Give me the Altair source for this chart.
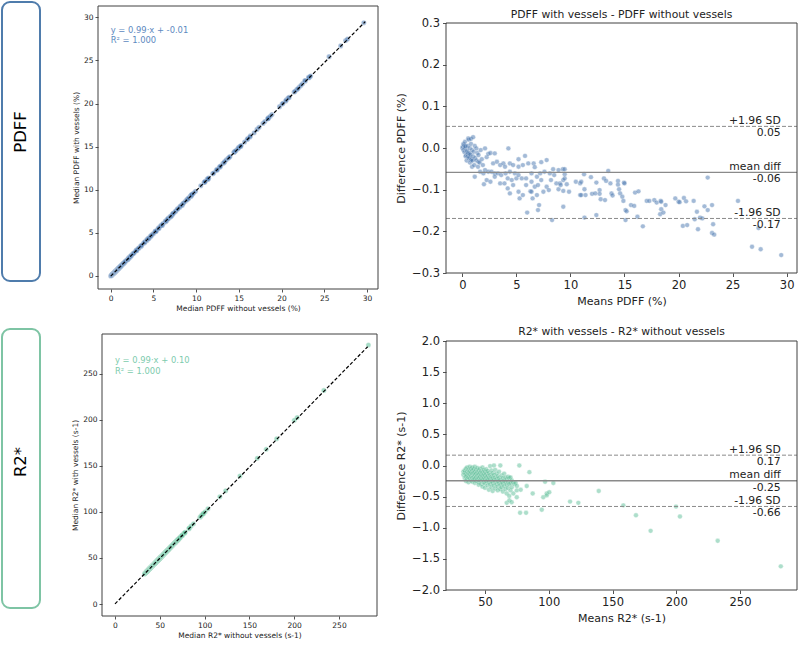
import altair as alt
import pandas as pd

FONT = "DejaVu Sans"
AX = "#404040"
TXT = "#222222"

PDFF_COLOR = "#4a78b0"
PDFF_TEXT = "#5d89c0"
PDFF_BOX = "#4f7cac"
R2_COLOR = "#5dbf98"
R2_TEXT = "#7ccbad"
R2_BOX = "#7ec4a4"

# ---------------- data ----------------
# PDFF: (mean of both measures, difference with - without)
pdff_points = [
    (0.0, 0.0), (0.05, 0.003), (0.1, 0.01), (0.1, -0.005), (0.15, 0.008), (0.2, 0.005), (0.2, -0.01),
    (0.25, 0.015), (0.25, 0.0), (0.3, -0.02), (0.3, 0.004), (0.35, -0.018), (0.4, -0.01), (0.4, -0.03),
    (0.45, -0.006), (0.5, -0.015), (0.5, 0.005), (0.5, -0.02), (0.55, 0.023), (0.55, -0.012), (0.6, 0.02),
    (0.6, -0.025), (0.65, -0.022), (0.7, 0.0), (0.7, -0.013), (0.7, -0.035), (0.75, -0.016), (0.8, 0.022),
    (0.8, 0.01), (0.8, -0.03), (0.85, -0.027), (0.9, -0.005), (0.9, -0.045), (0.95, -0.03), (1.0, 0.026),
    (1.0, -0.02), (1.05, -0.009), (1.1, -0.041), (1.15, 0.005), (1.15, -0.069), (1.2, -0.024), (1.3, -0.001),
    (1.3, -0.03), (1.4, -0.012), (1.45, -0.045), (1.5, -0.017), (1.5, -0.033), (1.6, -0.035), (1.65, -0.057),
    (1.7, -0.005), (1.8, -0.027), (1.9, -0.041), (1.95, -0.061), (2.0, -0.087), (2.1, -0.001), (2.1, -0.053),
    (2.25, -0.022), (2.25, -0.077), (2.4, -0.014), (2.4, -0.057), (2.6, -0.012), (2.6, -0.081), (2.7, -0.057),
    (2.85, -0.037), (3.0, -0.013), (3.0, -0.061), (3.0, -0.069), (3.2, -0.033), (3.3, -0.061), (3.5, -0.041),
    (3.5, -0.085), (3.6, -0.065), (3.8, -0.037), (3.9, -0.085), (3.95, -0.045), (4.0, -0.061), (4.2, -0.073),
    (4.2, -0.097), (4.26, -0.001), (4.4, -0.037), (4.4, -0.057), (4.4, -0.109), (4.57, -0.077), (4.7, -0.041),
    (4.7, -0.089), (4.86, -0.061), (5.0, -0.073), (5.2, -0.027), (5.2, -0.045), (5.2, -0.065), (5.2, -0.105),
    (5.3, -0.121), (5.5, -0.073), (5.6, -0.041), (5.6, -0.113), (5.8, -0.019), (5.9, -0.073), (5.9, -0.089),
    (6.0, -0.155), (6.1, -0.037), (6.3, -0.104), (6.4, -0.061), (6.4, -0.081), (6.4, -0.105), (6.5, -0.121),
    (6.6, -0.037), (6.7, -0.046), (6.7, -0.093), (6.9, -0.069), (6.9, -0.113), (7.0, -0.089), (7.0, -0.149),
    (7.1, -0.137), (7.2, -0.061), (7.3, -0.034), (7.3, -0.077), (7.5, -0.105), (7.6, -0.057), (7.8, -0.029),
    (7.8, -0.093), (8.0, -0.101), (8.1, -0.061), (8.2, -0.077), (8.3, -0.173), (8.4, -0.051), (8.5, -0.065),
    (8.7, -0.085), (8.9, -0.053), (8.9, -0.099), (9.04, -0.085), (9.1, -0.089), (9.3, -0.051), (9.34, -0.077),
    (9.34, -0.103), (9.34, -0.141), (9.47, -0.051), (9.47, -0.063), (9.47, -0.073), (9.66, -0.087),
    (9.87, -0.105), (10.5, -0.081), (10.9, -0.085), (10.9, -0.113), (11.0, -0.081), (11.0, -0.113),
    (11.26, -0.063), (11.3, -0.099), (11.3, -0.167), (11.4, -0.113), (11.9, -0.07), (12.0, -0.11),
    (12.3, -0.109), (12.4, -0.083), (12.4, -0.161), (12.7, -0.101), (12.7, -0.11), (12.8, -0.123),
    (13.1, -0.073), (13.2, -0.125), (13.3, -0.079), (13.5, -0.055), (13.7, -0.085), (13.8, -0.109),
    (13.9, -0.114), (14.4, -0.079), (14.4, -0.088), (14.5, -0.099), (14.6, -0.109), (14.8, -0.117),
    (14.96, -0.083), (15.0, -0.085), (14.9, -0.127), (15.1, -0.149), (15.1, -0.173), (15.2, -0.152),
    (15.6, -0.137), (15.9, -0.139), (15.98, -0.107), (16.3, -0.104), (16.2, -0.165), (16.7, -0.188),
    (17.06, -0.127), (17.3, -0.127), (17.76, -0.125), (17.98, -0.131), (18.35, -0.127), (18.4, -0.129),
    (18.4, -0.147), (18.3, -0.159), (18.6, -0.155), (18.8, -0.137), (19.7, -0.121), (20.0, -0.129),
    (20.1, -0.13), (20.5, -0.12), (20.7, -0.128), (21.4, -0.127), (21.7, -0.153), (22.4, -0.14),
    (22.7, -0.149), (22.7, -0.071), (23.1, -0.137), (21.5, -0.171), (21.99, -0.167), (22.2, -0.169),
    (20.4, -0.187), (20.8, -0.185), (21.8, -0.195), (23.2, -0.183), (23.1, -0.204), (23.3, -0.208),
    (25.5, -0.127), (26.8, -0.237), (27.4, -0.192), (27.6, -0.243), (29.5, -0.257),
]

# R2*: (mean of both measures, difference with - without)
r2_points = [
    (33, -0.10), (33, -0.15), (34, -0.12), (34, -0.2), (34, -0.08), (35, -0.05), (35, -0.14), (35, -0.18),
    (35, -0.25), (36, -0.1), (36, -0.03), (36, -0.16), (36, -0.22), (37, -0.07), (37, -0.12), (37, -0.19),
    (37, -0.27), (38, -0.02), (38, -0.09), (38, -0.14), (38, -0.21), (39, -0.05), (39, -0.11), (39, -0.17),
    (39, -0.24), (40, -0.03), (40, -0.08), (40, -0.13), (40, -0.2), (40, -0.26),
    (41, -0.06), (41, -0.12), (41, -0.18), (41, -0.23), (42, -0.02), (42, -0.1), (42, -0.15), (42, -0.21),
    (42, -0.28), (43, -0.07), (43, -0.13), (43, -0.19), (43, -0.25), (44, -0.04), (44, -0.11), (44, -0.16),
    (44, -0.22), (45, -0.08), (45, -0.14), (45, -0.2), (45, -0.27), (45, -0.31), (46, -0.05), (46, -0.12),
    (46, -0.18), (46, -0.24), (47, -0.09), (47, -0.15), (47, -0.21), (47, -0.3), (48, -0.03), (48, -0.11),
    (48, -0.17), (48, -0.23), (48, -0.34), (49, -0.07), (49, -0.14), (49, -0.2), (49, -0.27), (50, -0.1),
    (50, -0.16), (50, -0.22), (50, -0.29), (50, -0.36),
    (51, -0.06), (51, -0.13), (51, -0.19), (51, -0.25), (52, -0.09), (52, -0.17), (52, -0.23), (52, -0.32),
    (53, -0.12), (53, -0.2), (53, -0.27), (53, -0.39), (54, -0.01), (54, -0.15), (54, -0.22), (54, -0.3),
    (55, -0.08), (55, -0.18), (55, -0.25), (55, -0.35), (56, -0.12), (56, -0.2), (56, -0.28), (56, -0.41),
    (57, 0.0), (57, -0.15), (57, -0.23), (57, -0.32), (58, -0.07), (58, -0.19), (58, -0.26), (58, -0.37),
    (59, -0.13), (59, -0.22), (59, -0.3), (60, -0.17), (60, -0.25), (60, -0.34), (60, -0.4),
    (61, -0.1), (61, -0.2), (61, -0.28), (62, 0.0), (62, -0.23), (62, -0.31), (62, -0.38), (63, -0.16),
    (63, -0.26), (63, -0.35), (64, -0.2), (64, -0.29), (64, -0.42), (65, -0.13), (65, -0.24), (65, -0.33),
    (66, -0.19), (66, -0.27), (66, -0.38), (67, -0.22), (67, -0.31), (67, -0.45), (67, -0.6), (68, -0.18),
    (68, -0.26), (68, -0.36), (69, -0.2), (69, -0.3), (69, -0.49), (69.1, -0.56), (70, -0.19), (70, -0.28),
    (70, -0.4), (70.9, -0.59), (71, -0.24), (71, -0.35), (72, -0.27), (72.2, -0.45), (73, -0.3), (74, -0.28),
    (74.9, -0.4), (74.9, -0.51), (75, -0.33), (76.9, 0.0), (77.5, -0.76), (78, -0.39), (82.2, -0.76),
    (82.7, -0.33), (84.8, -0.107), (87.4, -0.45), (94.5, -0.71), (95.7, -0.51), (97.1, -0.26), (98.4, -0.45),
    (98.4, -0.48), (100.4, -0.43), (103.6, -0.28), (116.7, -0.58), (123.2, -0.60), (139.2, -0.41),
    (158.5, -0.64), (168.4, -0.80), (179.9, -1.05), (199.8, -0.66), (202.9, -0.82), (232.5, -1.21),
    (282.0, -1.62),
]

pdff_stats = [-0.0586, 0.0519, -0.1691]   # mean diff, +1.96 SD, -1.96 SD
pdff_above = ["mean diff", "+1.96 SD", "-1.96 SD"]
pdff_below = ["-0.06", "0.05", "-0.17"]
r2_stats = [-0.246, 0.166, -0.658]
r2_above = ["mean diff", "+1.96 SD", "-1.96 SD"]
r2_below = ["-0.25", "0.17", "-0.66"]

pdff_reg_x = [0.0, 29.8]
pdff_reg_y = [-0.01, 29.49]
r2_reg_x = [0.0, 282.0]
r2_reg_y = [0.10, 279.3]

pdff_ticks_scatter = [0, 5, 10, 15, 20, 25, 30]
r2_ticks_scatter = [0, 50, 100, 150, 200, 250]
pdff_ticks_ba_x = [0, 5, 10, 15, 20, 25, 30]
pdff_ticks_ba_y = [-0.3, -0.2, -0.1, 0.0, 0.1, 0.2, 0.3]
r2_ticks_ba_x = [50, 100, 150, 200, 250]
r2_ticks_ba_y = [-2.0, -1.5, -1.0, -0.5, 0.0, 0.5, 1.0, 1.5, 2.0]


def ba_frame(points):
    df = pd.DataFrame(points, columns=["mean", "diff"])
    df["without"] = df["mean"] - df["diff"] / 2
    df["with"] = df["mean"] + df["diff"] / 2
    return df


pdff_df = ba_frame(pdff_points)
r2_df = ba_frame(r2_points)
one = pd.DataFrame({"k": [0]})


def sc(dom, rng):
    return alt.Scale(domain=dom, range=rng, nice=False, zero=False)


def make_axis(title, values, fmt, offset, lab_fs, tit_fs, tick, lpad, tpad):
    return alt.Axis(title=title, values=values, format=fmt, offset=offset, grid=False, domain=False,
                    tickSize=tick, tickWidth=0.9, tickColor=AX,
                    labelFontSize=lab_fs, labelFont=FONT, labelColor=TXT, labelPadding=lpad,
                    labelFlush=False, labelOverlap=False,
                    titleFontSize=tit_fs, titleFont=FONT, titleFontWeight="normal",
                    titleColor=TXT, titlePadding=tpad)


def frame_layer(xs, ys, xax, yax, xdom, ydom):
    return alt.Chart(one).mark_rect(filled=False, stroke=AX, strokeWidth=1).encode(
        x=alt.X(datum=xdom[0], scale=xs, axis=xax), x2=alt.X2(datum=xdom[1]),
        y=alt.Y(datum=ydom[0], scale=ys, axis=yax), y2=alt.Y2(datum=ydom[1]))


def label_box(text, color, y0, y1, ty, w, h):
    box = alt.Chart(one).mark_rect(fill="white", stroke=color, strokeWidth=2, cornerRadius=8).encode(
        x=alt.value(2), x2=alt.value(40), y=alt.value(y0), y2=alt.value(y1))
    txt = alt.Chart(one).mark_text(text=text, angle=270, fontSize=16.5, font=FONT, color="black",
                                   align="center", baseline="middle").encode(
        x=alt.value(21), y=alt.value(ty))
    return alt.layer(box, txt).properties(width=w, height=h)


def scatter_cell(df, reg_x, reg_y, color, tcolor, eq, r2, xdom, xrng, ydom, yrng, ticks,
                 xtitle, ytitle, xoff, yoff, tx, ty1, ty2, w, h):
    xs = sc(xdom, xrng)
    ys = sc(ydom, yrng)
    xax = make_axis(xtitle, ticks, "d", xoff, 7.5, 7.5, 3, 2, 3)
    yax = make_axis(ytitle, ticks, "d", yoff, 7.5, 7.5, 3, 2, 3)
    reg = pd.DataFrame({"x": reg_x, "y": reg_y})
    pts = alt.Chart(df).mark_circle(size=26, color=color, opacity=0.55, stroke="white",
                                    strokeWidth=0.4).encode(
        x=alt.X("without:Q", scale=xs, axis=xax), y=alt.Y("with:Q", scale=ys, axis=yax))
    line = alt.Chart(reg).mark_line(color="black", strokeDash=[3.5, 2], strokeWidth=1.2).encode(
        x=alt.X("x:Q", scale=xs, axis=xax), y=alt.Y("y:Q", scale=ys, axis=yax))
    t1 = alt.Chart(one).mark_text(text=eq, fontSize=8.4, font=FONT, color=tcolor, align="left",
                                  baseline="middle").encode(x=alt.value(tx), y=alt.value(ty1))
    t2 = alt.Chart(one).mark_text(text=r2, fontSize=8.4, font=FONT, color=tcolor, align="left",
                                  baseline="middle").encode(x=alt.value(tx), y=alt.value(ty2))
    return alt.layer(pts, line, frame_layer(xs, ys, xax, yax, xdom, ydom), t1, t2
                     ).properties(width=w, height=h)


def ba_cell(df, stats, above, below, color, title, xdom, xrng, ydom, yrng, xticks, yticks,
            xtitle, ytitle, xoff, yoff, title_y, label_x, w, h):
    xs = sc(xdom, xrng)
    ys = sc(ydom, yrng)
    xax = make_axis(xtitle, xticks, "d", xoff, 11.5, 11, 3.5, 3, 4)
    yax = make_axis(ytitle, yticks, ".1f", yoff, 11.5, 11, 3.5, 3, 5)
    st = pd.DataFrame({"y": stats, "above": above, "below": below})
    pts = alt.Chart(df).mark_circle(size=24, color=color, opacity=0.5, stroke="white",
                                    strokeWidth=0.4).encode(
        x=alt.X("mean:Q", scale=xs, axis=xax), y=alt.Y("diff:Q", scale=ys, axis=yax))
    mean_rule = alt.Chart(st.iloc[[0]]).mark_rule(color="#8a8a8a", strokeWidth=1.4).encode(
        x=alt.X(datum=xdom[0], scale=xs, axis=xax), x2=alt.X2(datum=xdom[1]),
        y=alt.Y("y:Q", scale=ys, axis=yax))
    sd_rule = alt.Chart(st.iloc[1:]).mark_rule(color="#8a8a8a", strokeWidth=1,
                                               strokeDash=[4, 2]).encode(
        x=alt.X(datum=xdom[0], scale=xs, axis=xax), x2=alt.X2(datum=xdom[1]),
        y=alt.Y("y:Q", scale=ys, axis=yax))
    lab_up = alt.Chart(st).mark_text(fontSize=10.8, font=FONT, color=TXT, align="right",
                                     baseline="alphabetic", dy=-2.5).encode(
        x=alt.value(label_x), y=alt.Y("y:Q", scale=ys, axis=yax), text="above:N")
    lab_dn = alt.Chart(st).mark_text(fontSize=10.8, font=FONT, color=TXT, align="right",
                                     baseline="alphabetic", dy=10).encode(
        x=alt.value(label_x), y=alt.Y("y:Q", scale=ys, axis=yax), text="below:N")
    ttl = alt.Chart(one).mark_text(text=title, fontSize=10.8, font=FONT, color=TXT, align="center",
                                   baseline="alphabetic").encode(
        x=alt.value((xrng[0] + xrng[1]) / 2), y=alt.value(title_y))
    return alt.layer(pts, sd_rule, mean_rule, lab_up, lab_dn,
                     frame_layer(xs, ys, xax, yax, xdom, ydom), ttl).properties(width=w, height=h)


W0, W1, W2 = 60, 360, 380
H0, H1 = 320, 325

c00 = label_box("PDFF", PDFF_BOX, 2, 281, 132, W0, H0)
c01 = scatter_cell(pdff_df, pdff_reg_x, pdff_reg_y, PDFF_COLOR, PDFF_TEXT,
                   "y = 0.99·x + -0.01", "R² = 1.000",
                   [-1.49, 31.29], [38, 318], [-1.51, 31.31], [289, 6], pdff_ticks_scatter,
                   "Median PDFF without vessels (%)", "Median PDFF with vessels (%)",
                   289 - H0, -38, 50.7, 29.7, 39.7, W1, H0)
c02 = ba_cell(pdff_df, pdff_stats, pdff_above, pdff_below, PDFF_COLOR,
              "PDFF with vessels - PDFF without vessels",
              [-1.51, 30.96], [26, 377], [-0.3, 0.3], [273, 23], pdff_ticks_ba_x, pdff_ticks_ba_y,
              "Means PDFF (%)", "Difference PDFF (%)", 273 - H0, -26, 18.3, 360.7, W2, H0)

c10 = label_box("R2*", R2_BOX, 9, 288, 142, W0, H1)
c11 = scatter_cell(r2_df, r2_reg_x, r2_reg_y, R2_COLOR, R2_TEXT,
                   "y = 0.99·x + 0.10", "R² = 1.000",
                   [-14.5, 292.4], [42, 317], [-13.0, 293.1], [296, 14], r2_ticks_scatter,
                   "Median R2* without vessels (s-1)", "Median R2* with vessels (s-1)",
                   296 - H1, -42, 55, 40.3, 50.7, W1, H1)
c12 = ba_cell(r2_df, r2_stats, r2_above, r2_below, R2_COLOR,
              "R2* with vessels - R2* without vessels",
              [19.4, 294.7], [26, 377], [-2.0, 2.0], [270, 21], r2_ticks_ba_x, r2_ticks_ba_y,
              "Means R2* (s-1)", "Difference R2* (s-1)", 270 - H1, -26, 15, 360.7, W2, H1)

chart = alt.concat(c00, c01, c02, c10, c11, c12, columns=3, spacing=0, bounds="flush").properties(
    padding=0, background="white"
).configure_view(stroke=None)

chart.save("out.html", embed_options={"renderer": "svg", "actions": False})
